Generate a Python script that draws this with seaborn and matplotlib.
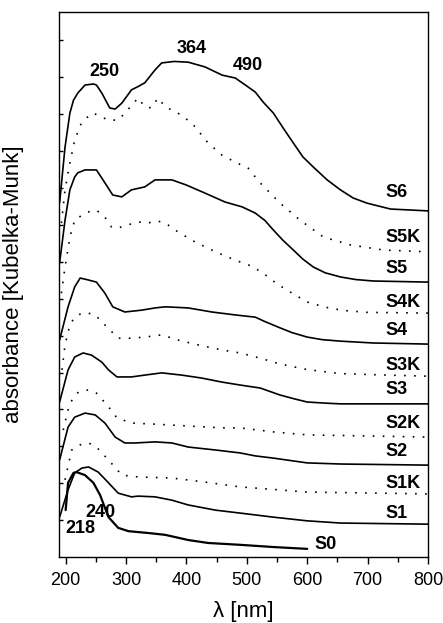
import matplotlib
matplotlib.use("Agg")
import matplotlib.pyplot as plt
import seaborn as sns
import pandas as pd
from matplotlib.ticker import MultipleLocator, FixedLocator, NullFormatter

# ---------------- data ----------------
wl_S6 = [190, 199, 207, 213, 220, 232, 246, 251, 260, 273, 282, 293, 309, 320, 331, 348, 359, 380, 403, 431, 459, 481, 502, 514, 527, 544, 560, 577, 593, 610, 633, 655, 676, 699, 738, 800]
abs_S6 = [9.60, 11.11, 12.03, 12.38, 12.57, 12.79, 12.82, 12.79, 12.57, 12.17, 12.14, 12.30, 12.66, 12.75, 12.85, 13.20, 13.39, 13.43, 13.41, 13.28, 13.06, 12.98, 12.74, 12.60, 12.33, 12.03, 11.63, 11.22, 10.84, 10.57, 10.22, 9.95, 9.73, 9.59, 9.43, 9.38]

wl_S5K = [193, 199, 207, 215, 226, 243, 254, 270, 287, 298, 320, 331, 342, 353, 365, 386, 409, 436, 459, 481, 502, 522, 555, 588, 627, 671, 726, 800]
abs_S5K = [9.05, 9.95, 10.68, 11.30, 11.76, 12.03, 11.98, 11.84, 11.84, 12.03, 12.44, 12.20, 12.17, 12.44, 12.20, 12.03, 11.76, 11.22, 10.89, 10.70, 10.54, 10.14, 9.59, 9.13, 8.67, 8.46, 8.32, 8.27]

wl_S5 = [190, 199, 207, 215, 220, 232, 251, 265, 278, 293, 309, 331, 348, 376, 400, 431, 464, 492, 514, 530, 544, 560, 577, 593, 610, 630, 655, 680, 709, 800]
abs_S5 = [7.97, 9.13, 9.95, 10.30, 10.41, 10.49, 10.49, 10.14, 9.81, 9.76, 9.95, 10.03, 10.22, 10.22, 10.08, 9.86, 9.62, 9.49, 9.32, 9.12, 8.86, 8.58, 8.32, 8.07, 7.86, 7.70, 7.59, 7.52, 7.48, 7.45]

wl_S4K = [193, 199, 207, 215, 221, 237, 251, 265, 276, 287, 303, 320, 336, 351, 365, 386, 414, 448, 480, 505, 525, 550, 575, 600, 630, 660, 700, 800]
abs_S4K = [7.15, 7.86, 8.67, 9.13, 9.20, 9.35, 9.40, 9.21, 8.94, 8.92, 9.00, 9.08, 9.05, 9.11, 9.05, 8.81, 8.54, 8.27, 8.05, 7.90, 7.72, 7.40, 7.15, 6.91, 6.77, 6.68, 6.63, 6.61]

wl_S4 = [190, 204, 215, 224, 237, 251, 265, 278, 298, 326, 348, 365, 403, 442, 481, 514, 530, 555, 575, 600, 625, 655, 709, 800]
abs_S4 = [5.88, 6.78, 7.32, 7.56, 7.51, 7.45, 7.15, 6.78, 6.64, 6.69, 6.75, 6.78, 6.75, 6.64, 6.56, 6.50, 6.38, 6.21, 6.08, 5.96, 5.89, 5.85, 5.80, 5.77]

wl_S3K = [194, 199, 207, 215, 227, 237, 249, 265, 287, 309, 331, 359, 386, 419, 459, 489, 522, 555, 600, 655, 733, 800]
abs_S3K = [5.07, 5.75, 6.29, 6.50, 6.61, 6.61, 6.56, 6.29, 5.93, 5.93, 5.96, 6.02, 5.88, 5.75, 5.61, 5.53, 5.39, 5.23, 5.08, 4.97, 4.93, 4.90]

wl_S3 = [190, 204, 215, 229, 243, 260, 271, 285, 309, 331, 359, 392, 425, 459, 489, 522, 555, 580, 600, 630, 655, 800]
abs_S3 = [4.20, 5.07, 5.42, 5.53, 5.47, 5.28, 5.07, 4.88, 4.88, 4.93, 4.99, 4.93, 4.85, 4.74, 4.66, 4.58, 4.39, 4.28, 4.20, 4.17, 4.15, 4.15]

wl_S2K = [196, 202, 207, 221, 238, 251, 271, 285, 309, 348, 403, 459, 489, 544, 600, 800]
abs_S2K = [3.44, 3.85, 4.17, 4.47, 4.53, 4.44, 4.07, 3.77, 3.63, 3.60, 3.55, 3.50, 3.50, 3.39, 3.31, 3.25]

wl_S2 = [190, 204, 215, 232, 249, 265, 282, 298, 315, 348, 376, 403, 448, 489, 514, 544, 600, 655, 800]
abs_S2 = [2.63, 3.52, 3.79, 3.90, 3.85, 3.63, 3.25, 3.09, 3.09, 3.12, 3.09, 2.98, 2.90, 2.82, 2.74, 2.68, 2.55, 2.52, 2.49]

wl_S1K = [199, 210, 224, 238, 251, 271, 293, 320, 376, 431, 489, 600, 800]
abs_S1K = [2.09, 2.90, 3.04, 3.09, 2.98, 2.63, 2.22, 2.17, 2.14, 2.03, 1.90, 1.76, 1.71]

wl_S1 = [190, 204, 215, 227, 238, 254, 271, 287, 309, 320, 348, 376, 403, 448, 489, 514, 544, 600, 655, 800]
abs_S1 = [1.08, 1.82, 2.28, 2.41, 2.44, 2.30, 2.01, 1.73, 1.63, 1.65, 1.63, 1.54, 1.41, 1.27, 1.19, 1.14, 1.08, 0.98, 0.92, 0.89]

wl_S0 = [200, 204, 213, 218, 232, 246, 257, 271, 287, 304, 337, 365, 403, 436, 489, 544, 600]
abs_S0 = [1.27, 2.01, 2.28, 2.30, 2.22, 2.01, 1.68, 1.08, 0.79, 0.70, 0.65, 0.60, 0.46, 0.38, 0.33, 0.27, 0.22]

series_names = ["S6", "S5K", "S5", "S4K", "S4", "S3K", "S3", "S2K", "S2", "S1K", "S1", "S0"]
label_x = [730, 730, 730, 730, 730, 730, 730, 730, 730, 730, 730, 612]
label_y = [9.89, 8.67, 7.83, 6.91, 6.13, 5.20, 4.53, 3.63, 2.85, 1.98, 1.19, 0.35]

peak_text = ["250", "364", "490", "240", "218"]
peak_x = [265, 408, 502, 257, 224]
peak_y = [13.16, 13.79, 13.33, 1.21, 0.78]

x_ticks = [200, 300, 400, 500, 600, 700, 800]
y_ticks = [1, 2, 3, 4, 5, 6, 7, 8, 9, 10, 11, 12, 13, 14]

# ---------------- build table ----------------
curves = {
    "S6": (wl_S6, abs_S6), "S5K": (wl_S5K, abs_S5K), "S5": (wl_S5, abs_S5),
    "S4K": (wl_S4K, abs_S4K), "S4": (wl_S4, abs_S4), "S3K": (wl_S3K, abs_S3K),
    "S3": (wl_S3, abs_S3), "S2K": (wl_S2K, abs_S2K), "S2": (wl_S2, abs_S2),
    "S1K": (wl_S1K, abs_S1K), "S1": (wl_S1, abs_S1), "S0": (wl_S0, abs_S0),
}
rows = []
for name, (w, a) in curves.items():
    for xi, yi in zip(w, a):
        rows.append({"wl": xi, "abs": yi, "sample": name})
df = pd.DataFrame(rows)

# ---------------- style ----------------
sns.set_style("white")
plt.rcParams["font.family"] = ["Liberation Sans", "DejaVu Sans"]
plt.rcParams["text.color"] = "black"
plt.rcParams["axes.labelcolor"] = "black"
plt.rcParams["xtick.color"] = "black"
plt.rcParams["ytick.color"] = "black"

fig = plt.figure(figsize=(4.43, 6.23), dpi=100)
ax = fig.add_axes([59 / 443, 66 / 623, 369 / 443, 545 / 623])

for name in series_names:
    sub = df[df["sample"] == name]
    dotted = name.endswith("K")
    lw = 1.6 if name == "S0" else 1.2
    sns.lineplot(data=sub, x="wl", y="abs", ax=ax, color="black", lw=lw,
                 sort=True, estimator=None,
                 linestyle=(0, (1, 5)) if dotted else "-")

for t, xx, yy in zip(series_names, label_x, label_y):
    ax.text(xx, yy, t, fontsize=13, fontweight="bold", ha="left", va="center",
            color="black")

for t, xx, yy in zip(peak_text, peak_x, peak_y):
    ax.text(xx, yy, t, fontsize=13, fontweight="bold", ha="center", va="center",
            color="black")

ax.set_xlim(189, 800)
ax.set_ylim(0, 14.77)
ax.xaxis.set_major_locator(FixedLocator(x_ticks))
ax.xaxis.set_minor_locator(MultipleLocator(50))
ax.yaxis.set_major_locator(FixedLocator(y_ticks))
ax.yaxis.set_major_formatter(NullFormatter())

ax.tick_params(axis="x", which="major", direction="out", length=5, width=1,
               labelsize=13, pad=6, bottom=True, top=False, colors="black")
ax.tick_params(axis="x", which="minor", direction="out", length=3.5, width=1,
               bottom=True, top=False)
ax.tick_params(axis="y", which="major", direction="in", length=3, width=1,
               left=True, right=False)

for s in ax.spines.values():
    s.set_visible(True)
    s.set_color("black")
    s.set_linewidth(1.0)

ax.set_xlabel("λ [nm]", fontsize=16, color="black")
ax.set_ylabel("absorbance [Kubelka-Munk]", fontsize=16, color="black")
ax.xaxis.set_label_coords(0.5, -0.08)
ax.yaxis.set_label_coords(-0.095, 0.5)

fig.savefig("out.png", dpi=100)
